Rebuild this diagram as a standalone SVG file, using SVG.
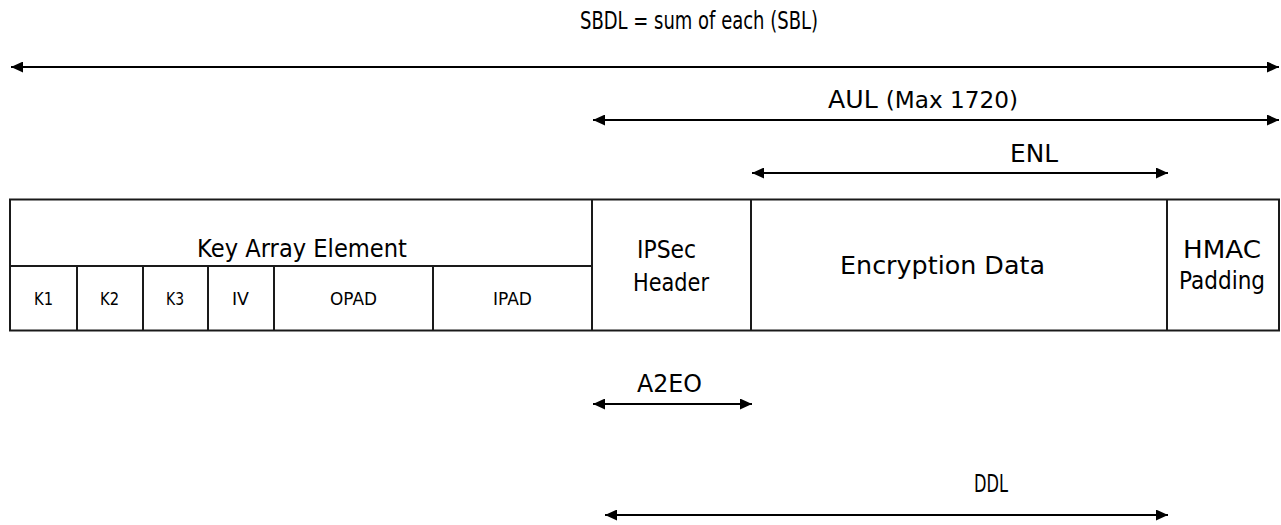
<svg xmlns="http://www.w3.org/2000/svg" width="1281" height="525" viewBox="0 0 1281 525">
<style>
.t{font-family:"DejaVu Sans","Liberation Sans",sans-serif;fill:#000}
.b{font-size:25px}
.s{font-size:17px}
.ln{stroke:#000;stroke-width:1.8;fill:none}
.cell{stroke:#1a1a1a;stroke-width:2;fill:#fff}
.dv{stroke:#1a1a1a;stroke-width:2}
</style>
<defs>
<marker id="ah" markerUnits="userSpaceOnUse" markerWidth="13" markerHeight="11" refX="12" refY="5.5" orient="auto-start-reverse" viewBox="0 0 13 11">
<path d="M0,0 L12,5.5 L0,11 z" fill="#000"/>
</marker>
</defs>
<rect width="1281" height="525" fill="#fff"/>
<g id="table">
<rect class="cell" x="10" y="199.5" width="1269" height="131"/>
<line class="dv" x1="592" y1="199.5" x2="592" y2="330.5"/>
<line class="dv" x1="751" y1="199.5" x2="751" y2="330.5"/>
<line class="dv" x1="1167" y1="199.5" x2="1167" y2="330.5"/>
<line class="dv" x1="10" y1="266" x2="592" y2="266"/>
<line class="dv" x1="77" y1="266" x2="77" y2="330.5"/>
<line class="dv" x1="143" y1="266" x2="143" y2="330.5"/>
<line class="dv" x1="208" y1="266" x2="208" y2="330.5"/>
<line class="dv" x1="274" y1="266" x2="274" y2="330.5"/>
<line class="dv" x1="433" y1="266" x2="433" y2="330.5"/>
</g>
<g id="key-array-element">
<text class="t b" x="197" y="257" textLength="210" lengthAdjust="spacingAndGlyphs">Key Array Element</text>
</g>
<g id="k1"><text class="t s" x="34" y="305" textLength="19" lengthAdjust="spacingAndGlyphs">K1</text></g>
<g id="k2"><text class="t s" x="100" y="305" textLength="19" lengthAdjust="spacingAndGlyphs">K2</text></g>
<g id="k3"><text class="t s" x="166" y="305" textLength="18" lengthAdjust="spacingAndGlyphs">K3</text></g>
<g id="iv"><text class="t s" x="232" y="305" textLength="17" lengthAdjust="spacingAndGlyphs">IV</text></g>
<g id="opad"><text class="t s" x="330" y="305" textLength="47" lengthAdjust="spacingAndGlyphs">OPAD</text></g>
<g id="ipad"><text class="t s" x="493" y="305" textLength="39" lengthAdjust="spacingAndGlyphs">IPAD</text></g>
<g id="ipsec-header">
<text class="t b" x="637" y="258" textLength="59" lengthAdjust="spacingAndGlyphs">IPSec</text>
<text class="t b" x="633" y="291" textLength="76" lengthAdjust="spacingAndGlyphs">Header</text>
</g>
<g id="encryption-data">
<text class="t b" x="840" y="274" textLength="205" lengthAdjust="spacingAndGlyphs">Encryption Data</text>
</g>
<g id="hmac-padding">
<text class="t b" x="1183" y="258" textLength="78" lengthAdjust="spacingAndGlyphs">HMAC</text>
<text class="t b" x="1179" y="289" textLength="86" lengthAdjust="spacingAndGlyphs">Padding</text>
</g>
<g id="connectors">
<line class="ln" x1="11" y1="67" x2="1279" y2="67" marker-start="url(#ah)" marker-end="url(#ah)"/>
<line class="ln" x1="593" y1="120" x2="1279" y2="120" marker-start="url(#ah)" marker-end="url(#ah)"/>
<line class="ln" x1="752" y1="173" x2="1168" y2="173" marker-start="url(#ah)" marker-end="url(#ah)"/>
<line class="ln" x1="593" y1="404" x2="752" y2="404" marker-start="url(#ah)" marker-end="url(#ah)"/>
<line class="ln" x1="605" y1="515" x2="1168" y2="515" marker-start="url(#ah)" marker-end="url(#ah)"/>
</g>
<g id="labels">
<text class="t" font-size="24" x="580" y="29" textLength="238" lengthAdjust="spacingAndGlyphs">SBDL = sum of each (SBL)</text>
<text class="t b" x="828" y="108" textLength="190" lengthAdjust="spacingAndGlyphs">AUL <tspan font-size="23">(Max 1720)</tspan></text>
<text class="t b" x="1010" y="162" textLength="48" lengthAdjust="spacingAndGlyphs">ENL</text>
<text class="t b" x="637" y="392" textLength="65" lengthAdjust="spacingAndGlyphs">A2EO</text>
<text class="t b" x="974" y="492" textLength="34" lengthAdjust="spacingAndGlyphs">DDL</text>
</g>
</svg>
